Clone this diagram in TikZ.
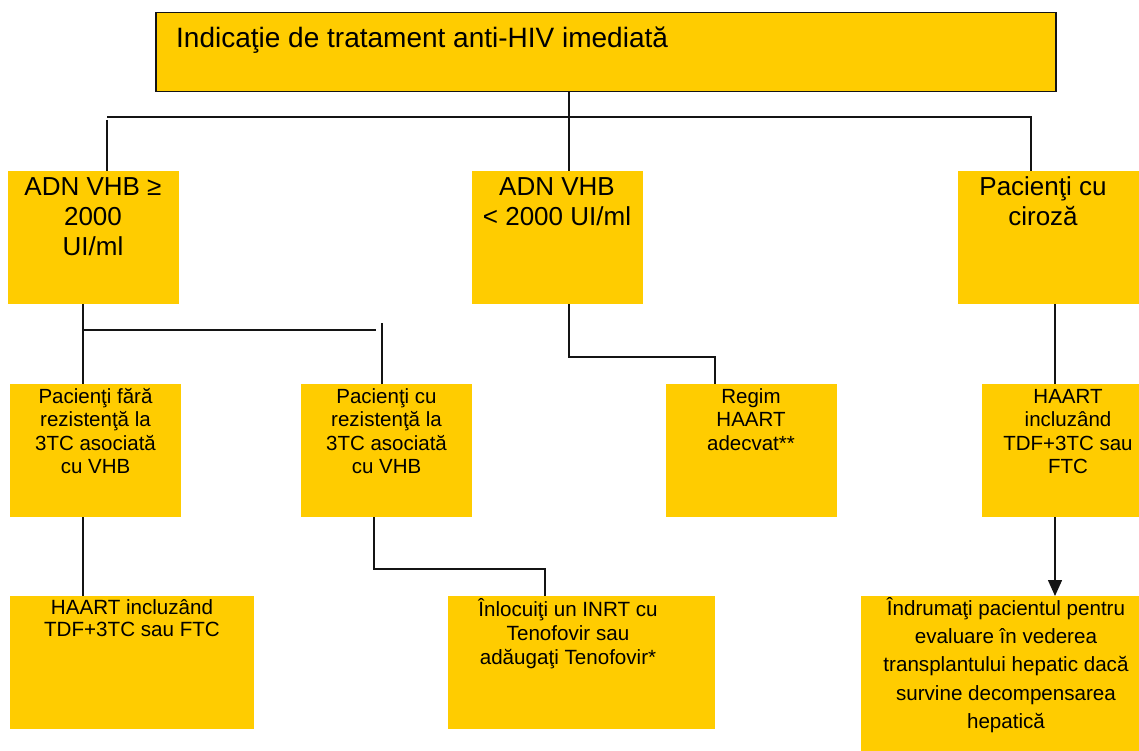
\documentclass[tikz,border=0pt]{standalone}
\usepackage{fontspec}
\setmainfont{Liberation Sans}
\usetikzlibrary{arrows.meta}
\definecolor{boxyellow}{HTML}{FFCC00}
\definecolor{linegray}{HTML}{141414}
\begin{document}
\begin{tikzpicture}[x=1pt,y=-1pt,
  box/.style={fill=boxyellow, draw=none, inner sep=0, anchor=north west},
  conn/.style={draw=linegray, line width=1.5pt},
  arr/.style={conn, -{Triangle[width=14pt,length=16pt]}},
  tbig/.style={font=\fontsize{26}{30}\selectfont, align=center, anchor=north, inner sep=0},
  tmid/.style={font=\fontsize{20.5}{23.5}\selectfont, align=center, anchor=north, inner sep=0},
]
\useasboundingbox (0,0) rectangle (1139,751);

% header box
\node[box, draw=linegray, line width=1.5pt, minimum width=900pt, minimum height=79pt] (top) at (155,12) {};
\node[anchor=base west, inner sep=0, font=\fontsize{28}{32}\selectfont] (toptxt) at (176,48) {Indicaţie de tratament anti-HIV imediată};

% second row
\node[box, minimum width=171pt, minimum height=133pt] (b1) at (8,171) {};
\node[box, minimum width=171pt, minimum height=133pt] (b2) at (472,171) {};
\node[box, minimum width=181pt, minimum height=133pt] (b3) at (958,171) {};
\node[tbig] (b1t) at (93,174) {\strut ADN VHB ≥\\2000\\UI/ml};
\node[tbig] (b2t) at (557,174) {\strut ADN VHB\\< 2000 UI/ml};
\node[tbig] (b3t) at (1043,174) {\strut Pacienţi cu\\ciroză};

% third row
\node[box, minimum width=171pt, minimum height=133pt] (bA) at (10,384) {};
\node[box, minimum width=171pt, minimum height=133pt] (bB) at (301,384) {};
\node[box, minimum width=171pt, minimum height=133pt] (bC) at (666,384) {};
\node[box, minimum width=157pt, minimum height=133pt] (bD) at (982,384) {};
\node[tmid] (bAt) at (95.5,386.5) {\strut Pacienţi fără\\rezistenţă la\\3TC asociată\\cu VHB};
\node[tmid] (bBt) at (386.5,386.5) {\strut Pacienţi cu\\rezistenţă la\\3TC asociată\\cu VHB};
\node[tmid] (bCt) at (751,386.5) {\strut Regim\\HAART\\adecvat**};
\node[tmid] (bDt) at (1068,386.5) {\strut HAART\\incluzând\\TDF+3TC sau\\FTC};

% fourth row
\node[box, minimum width=244pt, minimum height=133pt] (bE) at (10,596) {};
\node[box, minimum width=267pt, minimum height=133pt] (bF) at (448,596) {};
\node[box, minimum width=278pt, minimum height=155pt] (bG) at (861,596) {};
\node[anchor=north, inner sep=0, align=center, font=\fontsize{20.6}{22.3}\selectfont] (bEt) at (132,598.4) {\strut HAART incluzând\\TDF+3TC sau FTC};
\node[anchor=north, inner sep=0, align=center, font=\fontsize{20.6}{24}\selectfont] (bFt) at (568,598.2) {\strut Înlocuiţi un INRT cu\\Tenofovir sau\\adăugaţi Tenofovir*};
\node[anchor=north, inner sep=0, align=center, font=\fontsize{20.6}{28.3}\selectfont] (bGt) at (1006,595.2) {\strut Îndrumaţi pacientul pentru\\evaluare în vederea\\transplantului hepatic dacă\\survine decompensarea\\hepatică};

% junction points
\coordinate (busL) at (107,117);
\coordinate (busM) at (569,117);
\coordinate (busR) at (1031,117);
\coordinate (s1) at (83,330);
\coordinate (s1r) at (376,330);
\coordinate (s1t) at (382,323);
\coordinate (k2) at (715,357);
\coordinate (k3) at (1055,450);
\coordinate (k4) at (374,569);
\coordinate (k5) at (545,569);

% connectors
\draw[conn] (top.south -| busM) -- (b2.north -| busM);
\draw[conn] (busL) -- (busR) -- (b3.north -| busR);
\draw[conn] ([yshift=-3pt]busL) -- (b1.north -| busL);
\draw[conn] (b1.south -| s1) -- (bA.north -| s1);
\draw[conn] (s1) -- (s1r);
\draw[conn] (s1t) -- (bB.north -| s1t);
\draw[conn] (b2.south -| busM) |- (k2) -- (bC.north -| k2);
\draw[conn] (b3.south -| k3) -- (bD.north -| k3);
\draw[conn] (bA.south -| s1) -- (bE.north -| s1);
\draw[conn] (bB.south -| k4) |- (k5) -- (bF.north -| k5);
\draw[arr] (bD.south -| k3) -- (bG.north -| k3);
\end{tikzpicture}
\end{document}
